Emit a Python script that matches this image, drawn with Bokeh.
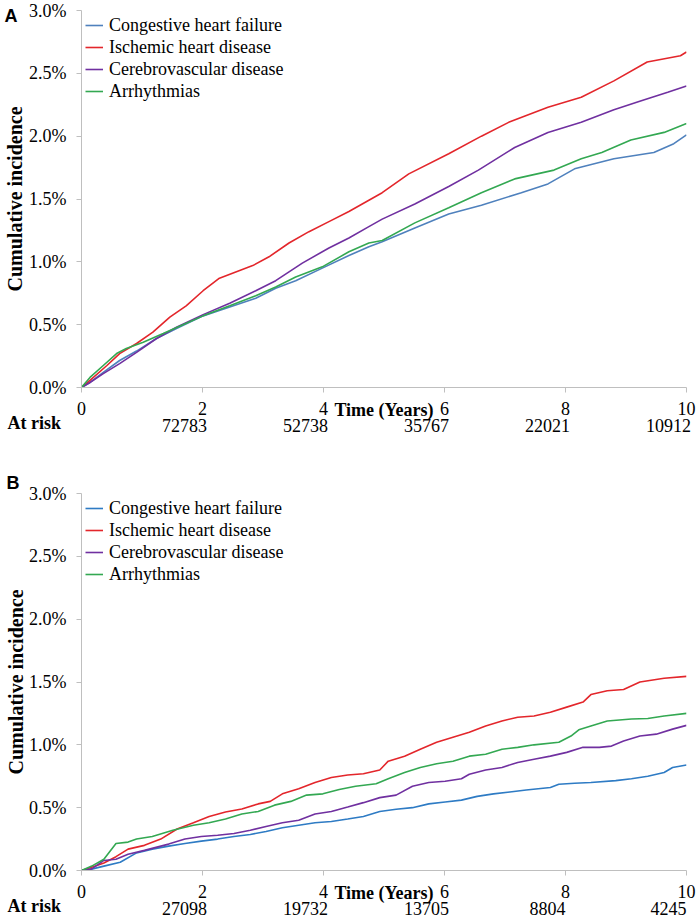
from bokeh.plotting import figure
from bokeh.models import Range1d, Title, FixedTicker, PrintfTickFormatter, LinearAxis
from bokeh.layouts import column
from bokeh.embed import file_html
from bokeh.resources import INLINE

# ---------------- data ----------------
series_names = ["Congestive heart failure", "Ischemic heart disease",
                "Cerebrovascular disease", "Arrhythmias"]
x_ticks = [0, 2, 4, 6, 8, 10]
y_ticks = [0, 0.5, 1.0, 1.5, 2.0, 2.5, 3.0]
risk_ticks = [2, 4, 6, 8, 10]

# Panel A (values in %)
a_chf_t = [0, 0.14, 0.36, 0.63, 0.91, 1.24, 1.57, 2.01, 2.45, 2.88, 3.21, 3.54, 3.98, 4.42, 4.75, 4.97,
           5.51, 6.07, 6.61, 7.27, 7.71, 8.15, 8.80, 9.46, 9.79, 10]
a_chf_v = [0, 0.04, 0.12, 0.215, 0.29, 0.39, 0.47, 0.57, 0.64, 0.71, 0.79, 0.85, 0.95, 1.05, 1.12, 1.16,
           1.27, 1.38, 1.45, 1.55, 1.62, 1.74, 1.82, 1.87, 1.94, 2.01]
a_ihd_t = [0, 0.14, 0.42, 0.63, 0.91, 1.18, 1.46, 1.73, 2.01, 2.28, 2.55, 2.83, 3.10, 3.43, 3.76, 4.09,
           4.42, 4.75, 4.97, 5.41, 6.07, 6.61, 7.06, 7.71, 8.26, 8.80, 9.35, 9.90, 10]
a_ihd_v = [0, 0.056, 0.175, 0.27, 0.35, 0.44, 0.56, 0.65, 0.77, 0.87, 0.92, 0.97, 1.04, 1.15, 1.24, 1.32,
           1.40, 1.49, 1.55, 1.70, 1.86, 2.0, 2.11, 2.23, 2.31, 2.44, 2.59, 2.64, 2.67]
a_cvd_t = [0, 0.14, 0.36, 0.63, 0.91, 1.24, 1.57, 2.01, 2.45, 2.88, 3.21, 3.65, 4.09, 4.42, 4.75, 4.97,
           5.51, 6.07, 6.56, 7.16, 7.71, 8.26, 8.80, 9.24, 9.69, 10]
a_cvd_v = [0, 0.04, 0.11, 0.19, 0.28, 0.39, 0.48, 0.58, 0.67, 0.77, 0.85, 0.99, 1.11, 1.19, 1.28, 1.34,
           1.46, 1.60, 1.73, 1.91, 2.03, 2.11, 2.21, 2.28, 2.35, 2.40]
a_arr_t = [0, 0.14, 0.36, 0.58, 0.74, 1.02, 1.35, 1.63, 2.01, 2.45, 2.88, 3.21, 3.54, 3.98, 4.42, 4.75,
           4.97, 5.51, 6.07, 6.61, 7.16, 7.81, 8.26, 8.60, 9.08, 9.63, 10]
a_arr_v = [0, 0.08, 0.175, 0.27, 0.31, 0.36, 0.43, 0.49, 0.57, 0.65, 0.73, 0.80, 0.88, 0.96, 1.08, 1.15,
           1.17, 1.31, 1.43, 1.55, 1.66, 1.73, 1.82, 1.87, 1.97, 2.03, 2.10]
a_at_risk = ["72783", "52738", "35767", "22021", "10912"]

# Panel B (values in %)
b_chf_t = [0, 0.10, 0.37, 0.64, 0.91, 1.17, 1.44, 1.71, 1.98, 2.25, 2.52, 2.79, 3.05, 3.32, 3.59, 3.86,
           4.13, 4.40, 4.66, 4.93, 5.20, 5.47, 5.74, 6.01, 6.28, 6.54, 6.81, 7.08, 7.35, 7.75, 7.89, 8.15,
           8.42, 8.83, 9.09, 9.36, 9.63, 9.77, 10]
b_chf_v = [0, 0.003, 0.035, 0.066, 0.14, 0.17, 0.194, 0.215, 0.234, 0.25, 0.27, 0.287, 0.31, 0.34, 0.36,
           0.38, 0.39, 0.41, 0.43, 0.47, 0.487, 0.50, 0.53, 0.545, 0.56, 0.59, 0.61, 0.625, 0.64, 0.66,
           0.686, 0.694, 0.70, 0.715, 0.73, 0.75, 0.78, 0.82, 0.84]
b_ihd_t = [0, 0.23, 0.37, 0.57, 0.77, 1.04, 1.31, 1.58, 1.85, 2.11, 2.38, 2.65, 2.92, 3.12, 3.32, 3.59,
           3.86, 4.13, 4.40, 4.66, 4.93, 5.07, 5.34, 5.60, 5.87, 6.14, 6.41, 6.68, 6.95, 7.21, 7.48, 7.75,
           8.02, 8.29, 8.42, 8.69, 8.96, 9.23, 9.63, 10]
b_ihd_v = [0, 0.035, 0.06, 0.11, 0.17, 0.2, 0.25, 0.33, 0.38, 0.43, 0.465, 0.49, 0.53, 0.55, 0.61, 0.65,
           0.70, 0.74, 0.76, 0.77, 0.80, 0.87, 0.91, 0.965, 1.02, 1.06, 1.10, 1.15, 1.19, 1.22, 1.23, 1.26,
           1.30, 1.34, 1.40, 1.43, 1.44, 1.50, 1.53, 1.545]
b_cvd_t = [0, 0.17, 0.37, 0.57, 0.77, 1.04, 1.44, 1.71, 1.98, 2.25, 2.52, 2.79, 3.05, 3.32, 3.59, 3.86,
           4.13, 4.40, 4.66, 4.93, 5.20, 5.47, 5.74, 6.01, 6.28, 6.41, 6.68, 6.95, 7.21, 7.48, 7.75, 8.02,
           8.29, 8.56, 8.76, 8.96, 9.23, 9.50, 9.77, 10]
b_cvd_v = [0, 0.013, 0.08, 0.09, 0.13, 0.16, 0.21, 0.25, 0.27, 0.28, 0.295, 0.32, 0.35, 0.38, 0.40, 0.45,
           0.47, 0.505, 0.54, 0.58, 0.60, 0.67, 0.70, 0.71, 0.73, 0.766, 0.80, 0.82, 0.86, 0.885, 0.91,
           0.94, 0.98, 0.98, 0.99, 1.03, 1.07, 1.085, 1.125, 1.155]
b_arr_t = [0, 0.17, 0.37, 0.57, 0.77, 0.91, 1.17, 1.51, 1.85, 2.11, 2.38, 2.65, 2.92, 3.19, 3.46, 3.72,
           3.99, 4.26, 4.53, 4.87, 5.07, 5.34, 5.60, 5.87, 6.14, 6.41, 6.68, 6.95, 7.21, 7.48, 7.89, 8.09,
           8.22, 8.42, 8.69, 9.09, 9.36, 9.63, 10]
b_arr_v = [0, 0.035, 0.09, 0.215, 0.226, 0.25, 0.27, 0.32, 0.36, 0.38, 0.41, 0.45, 0.47, 0.52, 0.55, 0.60,
           0.61, 0.645, 0.67, 0.69, 0.73, 0.78, 0.82, 0.85, 0.87, 0.91, 0.925, 0.965, 0.98, 1.0, 1.02, 1.07,
           1.12, 1.15, 1.19, 1.205, 1.21, 1.23, 1.25]
b_at_risk = ["27098", "19732", "13705", "8804", "4245"]

colors_a = ["#4F81BD", "#E3262B", "#7030A0", "#33A852"]
colors_b = ["#2E7BC4", "#E3262B", "#7030A0", "#33A852"]

SERIF = "Liberation Serif"
SANS = "Liberation Sans"
FS = "18px"
W = 700
ML, MR = 78, 14


def make_panel(letter, letter_on_axis, series, colors, at_risk, H, MT, MB):
    fw = W - ML - MR
    fh = H - MT - MB
    xpx = 10.0 / fw
    ypx = 3.0 / fh
    p = figure(width=W, height=H, output_backend="svg", toolbar_location=None,
               x_range=Range1d(0, 10), y_range=Range1d(0, 3),
               min_border_left=ML, min_border_right=MR,
               min_border_top=MT, min_border_bottom=MB)
    p.outline_line_color = None
    p.grid.visible = False

    for (t, v), name, c in zip(series, series_names, colors):
        p.line(t, v, line_color=c, line_width=1.6, legend_label=name)

    xa = p.xaxis[0]
    ya = p.yaxis[0]
    for ax in (xa, ya):
        ax.axis_line_color = "#BFBFBF"
        ax.major_tick_line_color = "#BFBFBF"
        ax.minor_tick_line_color = None
        ax.major_tick_out = 5
        ax.major_tick_in = 0
        ax.major_label_text_font = SERIF
        ax.major_label_text_font_size = FS
        ax.major_label_text_color = "black"
    xa.ticker = FixedTicker(ticks=x_ticks)
    ya.ticker = FixedTicker(ticks=y_ticks)
    ya.formatter = PrintfTickFormatter(format="%.1f%%")
    xa.major_label_standoff = 9
    ya.major_label_standoff = 10

    # x axis title sitting on the tick-label row
    xa.axis_label = "Time (Years)"
    xa.axis_label_text_font = SERIF
    xa.axis_label_text_font_style = "bold"
    xa.axis_label_text_font_size = FS
    xa.axis_label_text_color = "black"
    xa.axis_label_standoff = -18

    # outer left axis: panel letter (panel A) + y title
    label_kw = dict(axis_label="Cumulative incidence",
                    axis_label_text_font=SERIF, axis_label_text_font_style="bold",
                    axis_label_text_font_size="20px", axis_label_text_color="black",
                    axis_line_color=None, major_tick_line_color=None, minor_tick_line_color=None,
                    major_tick_out=0, major_tick_in=0)
    if letter_on_axis:
        p.extra_y_ranges = {"lab": Range1d(5 * ypx, 3 + 5 * ypx)}
        la = LinearAxis(y_range_name="lab", ticker=FixedTicker(ticks=[3.0]),
                        major_label_overrides={3.0: letter}, major_label_standoff=9,
                        major_label_text_font=SANS, major_label_text_font_style="bold",
                        major_label_text_font_size=FS, major_label_text_color="black",
                        axis_label_standoff=-24, **label_kw)
    else:
        la = LinearAxis(ticker=FixedTicker(ticks=[]), major_label_standoff=0,
                        axis_label_standoff=0, **label_kw)
        p.add_layout(Title(text=letter, align="left", offset=-75, standoff=2, vertical_align="bottom",
                           text_font=SANS, text_font_style="bold", text_font_size=FS,
                           text_color="black"), "above")
    p.add_layout(la, "left")

    # "At risk" row
    p.add_layout(Title(text="At risk", align="left", offset=-74, standoff=-19, vertical_align="top",
                       text_font=SERIF, text_font_style="bold", text_font_size=FS,
                       text_color="black"), "below")
    shift = 18 * xpx
    p.extra_x_ranges = {"risk": Range1d(shift, 10 + shift)}
    ra = LinearAxis(x_range_name="risk", ticker=FixedTicker(ticks=risk_ticks),
                    major_label_overrides=dict(zip(risk_ticks, at_risk)),
                    axis_line_color=None, major_tick_line_color=None, minor_tick_line_color=None,
                    major_tick_out=0, major_tick_in=0, major_label_standoff=-7,
                    major_label_text_font=SERIF, major_label_text_font_size=FS,
                    major_label_text_color="black")
    p.add_layout(ra, "below")

    lg = p.legend[0]
    lg.location = "top_left"
    lg.border_line_color = None
    lg.background_fill_alpha = 0
    lg.label_text_font = SERIF
    lg.label_text_font_size = FS
    lg.label_text_color = "black"
    lg.glyph_width = 18
    lg.glyph_height = 22
    lg.label_height = 22
    lg.spacing = 0
    lg.padding = 0
    lg.margin = 4
    lg.label_standoff = 6
    return p


pa = make_panel("A", True,
                [(a_chf_t, a_chf_v), (a_ihd_t, a_ihd_v), (a_cvd_t, a_cvd_v), (a_arr_t, a_arr_v)],
                colors_a, a_at_risk, 446, 10, 59)
pb = make_panel("B", False,
                [(b_chf_t, b_chf_v), (b_ihd_t, b_ihd_v), (b_cvd_t, b_cvd_v), (b_arr_t, b_arr_v)],
                colors_b, b_at_risk, 472, 47, 48)

layout = column(pa, pb, spacing=0)
open("out.html", "w").write(file_html(layout, INLINE))
